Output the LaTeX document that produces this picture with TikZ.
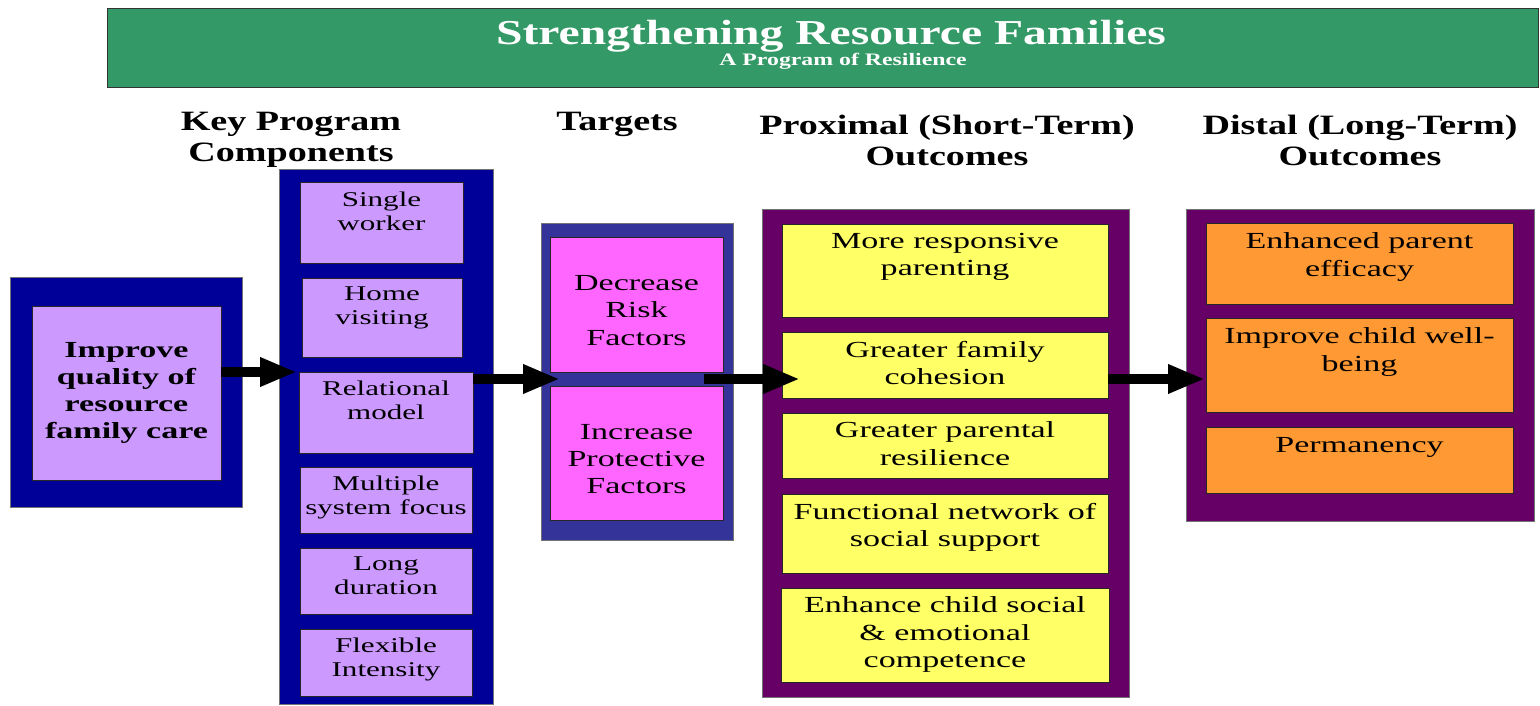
\documentclass[tikz,border=0pt]{standalone}
\usepackage{fontspec}
\setmainfont{Liberation Serif}
\newfontfamily\headfont{Liberation Serif}[FakeStretch=1.36]
\newfontfamily\boxfont{Liberation Serif}[FakeStretch=1.48]
\usetikzlibrary{arrows.meta,calc}

\definecolor{bandgreen}{HTML}{339966}
\definecolor{navy}{HTML}{000099}
\definecolor{slateblue}{HTML}{333399}
\definecolor{plum}{HTML}{660066}
\definecolor{lavender}{HTML}{CC99FF}
\definecolor{magentapink}{HTML}{FF66FF}
\definecolor{paleyellow}{HTML}{FFFF66}
\definecolor{softorange}{HTML}{FF9933}

% \cellbox{name}{style}{left}{top}{width}{height}
\newcommand\cellbox[6]{%
  \node[#2, minimum width=#5pt, minimum height=#6pt, anchor=north west] (#1) at (#3,#4) {};}

\begin{document}
\begin{tikzpicture}[x=1pt,y=-1pt,
  every node/.style={inner sep=0pt, outer sep=0pt},
  panel/.style={rectangle, draw=black!55, line width=0.8pt},
  cell/.style={rectangle, draw=black!85, line width=1pt},
  celltext/.style={align=center, anchor=north, font=\boxfont\fontsize{21}{24}\selectfont},
  bigtext/.style={align=center, font=\boxfont\fontsize{23}{27.3}\selectfont},
  heading/.style={align=center, font=\headfont\bfseries\fontsize{28}{31}\selectfont},
  flow/.style={line width=10pt, draw=black, -{Triangle[length=37pt,width=27pt]}}
]
\useasboundingbox (0,0) rectangle (1540,706);

% title band
\cellbox{band}{panel, fill=bandgreen, draw=black!80}{107}{8}{1431}{79}
\node[font=\headfont\bfseries\fontsize{35}{38}\selectfont, text=white] (title) at (831,36) {Strengthening Resource Families};
\node[font=\headfont\bfseries\fontsize{17.5}{19}\selectfont, text=white] (subtitle) at (843,61) {A Program of Resilience};

% column headings
\node[heading] (hcomp) at (291,140) {Key Program\\Components};
\node[heading] (htgt) at (617,124) {Targets};
\node[heading] (hprox) at (947,140) {Proximal (Short-Term)\\Outcomes};
\node[heading] (hdist) at (1360,140) {Distal (Long-Term)\\Outcomes};

% goal
\cellbox{goalpanel}{panel, fill=navy}{10}{277}{232}{230}
\cellbox{goal}{cell, fill=lavender}{32}{306}{189}{174}
\node[bigtext, font=\boxfont\bfseries\fontsize{23}{27}\selectfont] (goal-t) at (goal.center) {Improve\\quality of\\resource\\family care};

% key program components
\cellbox{comppanel}{panel, fill=navy}{279}{169}{214}{535}
\cellbox{single}{cell, fill=lavender}{300}{183}{163}{80}
\cellbox{home}{cell, fill=lavender}{302}{278}{160}{79}
\cellbox{relational}{cell, fill=lavender}{299}{372}{174}{81}
\cellbox{multiple}{cell, fill=lavender}{300}{467}{172}{66}
\cellbox{longdur}{cell, fill=lavender}{300}{548}{172}{66}
\cellbox{flexible}{cell, fill=lavender}{300}{629}{172}{67}
\node[celltext] (single-t) at ([yshift=-9pt]single.north) {Single\\worker};
\node[celltext] (home-t) at ([yshift=-9pt]home.north) {Home\\visiting};
\node[celltext] (relational-t) at ([yshift=-9pt]relational.north) {Relational\\model};
\node[celltext] (multiple-t) at ([yshift=-9pt]multiple.north) {Multiple\\system focus};
\node[celltext] (longdur-t) at ([yshift=-9pt]longdur.north) {Long\\duration};
\node[celltext] (flexible-t) at ([yshift=-9pt]flexible.north) {Flexible\\Intensity};

% targets
\cellbox{tgtpanel}{panel, fill=slateblue}{541}{223}{192}{317}
\cellbox{decrease}{cell, fill=magentapink}{550}{237}{173}{135}
\cellbox{increase}{cell, fill=magentapink}{550}{386}{173}{134}
\node[bigtext] (decrease-t) at ([yshift=-6pt]decrease.center) {Decrease\\Risk\\Factors};
\node[bigtext] (increase-t) at ([yshift=-6pt]increase.center) {Increase\\Protective\\Factors};

% proximal outcomes
\cellbox{proxpanel}{panel, fill=plum}{762}{209}{367}{488}
\cellbox{responsive}{cell, fill=paleyellow}{782}{224}{326}{93}
\cellbox{cohesion}{cell, fill=paleyellow}{782}{332}{326}{66}
\cellbox{resilience}{cell, fill=paleyellow}{782}{413}{326}{65}
\cellbox{network}{cell, fill=paleyellow}{782}{494}{326}{79}
\cellbox{competence}{cell, fill=paleyellow}{781}{588}{328}{94}
\node[bigtext, anchor=north] (responsive-t) at ([yshift=-9pt]responsive.north) {More responsive\\parenting};
\node[bigtext, anchor=north] (cohesion-t) at ([yshift=-9pt]cohesion.north) {Greater family\\cohesion};
\node[bigtext, anchor=north] (resilience-t) at ([yshift=-9pt]resilience.north) {Greater parental\\resilience};
\node[bigtext, anchor=north] (network-t) at ([yshift=-9pt]network.north) {Functional network of\\social support};
\node[bigtext, anchor=north] (competence-t) at ([yshift=-9pt]competence.north) {Enhance child social\\\& emotional\\competence};

% distal outcomes
\cellbox{distpanel}{panel, fill=plum}{1186}{209}{348}{312}
\cellbox{efficacy}{cell, fill=softorange}{1206}{223}{307}{81}
\cellbox{wellbeing}{cell, fill=softorange}{1206}{318}{307}{94}
\cellbox{permanency}{cell, fill=softorange}{1206}{427}{307}{66}
\node[bigtext, anchor=north] (efficacy-t) at ([yshift=-10pt]efficacy.north) {Enhanced parent\\efficacy};
\node[bigtext, anchor=north] (wellbeing-t) at ([yshift=-10pt]wellbeing.north) {Improve child well-\\being};
\node[bigtext, anchor=north] (permanency-t) at ([yshift=-10pt]permanency.north) {Permanency};

% flow arrows
\coordinate (lane1) at (0,372);
\coordinate (lane2) at (0,379);
\draw[flow] (goal.east |- lane1) -- ($(relational.west |- lane1)+(-2,0)$);
\draw[flow] (relational.east |- lane2) -- ($(tgtpanel.west |- lane2)+(19,0)$);
\draw[flow] ($(decrease.east |- lane2)+(-19,0)$) -- ($(cohesion.west |- lane2)+(18,0)$);
\draw[flow] (cohesion.east |- lane2) -- ($(wellbeing.west |- lane2)+(-1,0)$);
\end{tikzpicture}
\end{document}
